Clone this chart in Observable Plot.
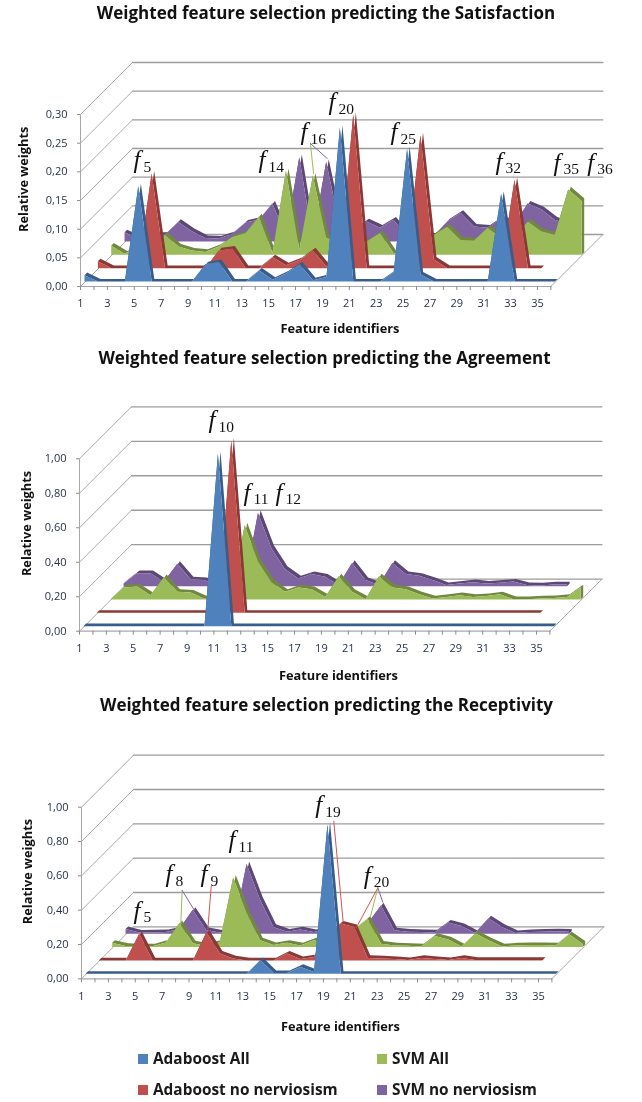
<!DOCTYPE html>
<html><head><meta charset="utf-8">
<script src="https://cdn.jsdelivr.net/npm/d3@7"></script>
<script src="https://cdn.jsdelivr.net/npm/@observablehq/plot@0.6"></script>
<style>
html,body{margin:0;padding:0;background:#fff;}
#page{position:relative;width:642px;height:1102px;overflow:hidden;font-family:"Open Sans",sans-serif;filter:blur(0.35px);}
.title{position:absolute;width:652px;text-align:center;font-weight:700;font-size:17px;color:#111;white-space:nowrap;}
.panel{position:absolute;left:0;}
.panel svg{display:block;overflow:visible;}
.leg{position:absolute;font-weight:700;font-size:15.4px;color:#1a1a1a;white-space:nowrap;line-height:18px;}
.sw{position:absolute;width:10px;height:10px;}
</style></head><body><div id="page"></div>
<script>
// values: one entry per feature identifier, starting at 1
const satisfactionBlue=[.011,0,0,0,.166,0,0,0,0,.03,.034,0,0,.019,.003,.014,.03,.002,.008,.268,0,0,0,.016,.231,.012,0,0,0,0,0,.153,0,0,0,0];
const satisfactionRed=[.012,0,0,0,.165,0,0,0,0,.031,.034,0,0,.019,.005,.014,.031,.003,.009,.268,0,0,0,.016,.232,.015,0,0,0,0,0,.154,0,0];
const satisfactionGreen=[.016,.002,.014,.01,.035,.0145,.0075,.005,.0145,.031,.038,.067,.003,.146,.009,.138,.03,.02,.02,.023,.038,.003,0,.01,.035,.049,.026,.025,.047,.03,.03,.058,.041,.035,.114,.094];
const satisfactionPurple=[.016,.005,.01,.012,.034,.018,.006,.005,.013,.033,.038,.066,.01,.147,.003,.139,.027,.02,.035,.024,.038,.01,.01,.01,.035,.05,.026,.024,.04,.03,.066,.056,.038,.03];
const agreementBlue=[0,0,0,0,0,0,0,0,0,0,1,0,0,0,0,0,0,0,0,0,0,0,0,0,0,0,0,0,0,0,0,0,0,0,0,0];
const agreementRed=[0,0,0,0,0,0,0,0,0,0,1,0,0,0,0,0,0,0,0,0,0,0,0,0,0,0,0,0,0,0,0,0,0,0];
const agreementGreen=[0,.07,.075,.025,.13,.045,.04,.005,.005,.005,.43,.22,.10,.045,.07,.06,.015,.135,.045,.002,.135,.07,.06,.03,.006,.015,.025,.015,.02,.03,.002,.002,.006,.008,.015,.07];
const agreementPurple=[.015,.075,.075,.025,.13,.04,.035,.005,.005,.005,.425,.22,.10,.045,.07,.055,.006,.135,.035,.006,.135,.07,.06,.035,.006,.015,.023,.015,.02,.027,.006,.004,.01,.01];
const receptivityBlue=[0,0,0,0,0,0,0,0,0,0,0,0,0,.08,.004,.004,.04,.01,.87,0,0,0,0,0,0,0,0,0,0,0,0,0,0,0,0,0];
const receptivityRed=[0,0,0,.155,0,0,0,0,.165,.04,.012,0,0,0,.04,.008,.02,.155,.215,.195,.015,.012,.008,.002,.015,.008,.002,.015,.003,.003,.003,.003,.003,.003];
const receptivityGreen=[.025,.007,.005,.005,.027,.14,.022,.007,.027,.405,.2,.04,.012,.025,.01,.04,.02,.06,.1,.165,.02,.01,.008,.004,.065,.045,.004,.08,.04,.004,.01,.012,.012,.01,.075,.02];
const receptivityPurple=[.027,.007,.008,.01,.027,.14,.022,.007,.012,.406,.2,.04,.012,.025,.01,.025,.012,.02,.06,.165,.02,.012,.01,.008,.065,.045,.004,.09,.04,.004,.01,.012,.014,.012];

const seriesNames=["Adaboost All","Adaboost no nerviosism","SVM All","SVM no nerviosism"];
const seriesFill=["#4F81BD","#C0504D","#9BBB59","#8064A2"];
const seriesSide=["#385D8A","#8C3836","#71893F","#5C4776"];
const featureTicks=d3.range(1,37);

const satisfactionTicks=[0,.05,.10,.15,.20,.25,.30];
const unitTicks=[0,.2,.4,.6,.8,1];

// annotation labels: [subscript, feature position, value position]
const satisfactionLabels=[["5",4.94,.206],["14",14.24,.206],["16",17.37,.255],["20",19.45,.307],["25",24.07,.255],["32",31.88,.204],["35",36.2,.202],["36",38.7,.202]];
const agreementLabels=[["10",10.6,1.176],["11",13.2,.758],["12",15.58,.758]];
const receptivityLabels=[["5",4.87,.351],["8",7.25,.563],["9",9.85,.563],["11",11.94,.76],["19",18.4,.964],["20",22,.555]];
// leader lines: [series index, from feature, from value, to feature, to value]
const satisfactionLeaders=[[2,18.11,.2494,18.34,.197],[3,18.11,.2494,19.36,.2233]];
const agreementLeaders=[];
const receptivityLeaders=[[2,8.49,.515,8.39,.32],[3,8.49,.515,9.41,.398],[1,10.65,.538,10.4,.291],[1,19.77,.918,20.47,.33],[1,23.05,.53,21.46,.30],[2,23.05,.53,22.5,.363],[3,23.05,.53,23.42,.446]];

const page=document.getElementById("page");
const tickInk="#26324a", numFont="'Open Sans',sans-serif";

function panel({top,height,originX,originY,pxPerValue,series,yTicks,labels,leaders,xTitleF,xTitleOffset,yTitleValue,yTitleOffset}){
  const pxPerFeature=13.44, depth=52, thick=2.6, first=4.5, step=13.35;
  const right=4, upper=6;
  const dF=d=>d/pxPerFeature, dV=d=>d/pxPerValue;
  const xMax=1+(642-right-originX)/pxPerFeature;
  const yMax=(originY-top-upper)/pxPerValue;
  const marks=[];
  const wallGray="#a8a8a8", backGray="#9c9c9c";
  // diagonal wall lines, then the back wall grid
  yTicks.forEach(v=>{
    marks.push(Plot.line([{x:1,y:v},{x:1+dF(depth),y:v+dV(depth)}],{x:"x",y:"y",stroke:wallGray,strokeWidth:1}));
    marks.push(Plot.line([{x:1+dF(depth),y:v+dV(depth)},{x:36+dF(depth),y:v+dV(depth)}],{x:"x",y:"y",stroke:backGray,strokeWidth:1.3}));
  });
  marks.push(Plot.line([{x:36,y:0},{x:36+dF(depth),y:dV(depth)}],{x:"x",y:"y",stroke:wallGray,strokeWidth:1}));
  marks.push(Plot.line([{x:1,y:0},{x:36,y:0}],{x:"x",y:"y",stroke:wallGray,strokeWidth:1.2}));
  marks.push(Plot.line([{x:1,y:0},{x:1,y:yTicks[yTicks.length-1]}],{x:"x",y:"y",stroke:wallGray,strokeWidth:1}));
  [3,2,1,0].forEach(i=>{
    const front=first+step*i, back=front+thick;
    const rows=series[i].map((v,k)=>({f:k+1,v}));
    const ribbon=[...rows,{f:rows.length,v:0}];
    marks.push(Plot.area(ribbon,{
      x1:d=>d.f+dF(front),y1:d=>d.v+dV(front),
      x2:d=>d.f+dF(back),y2:d=>d.v+dV(back),
      fill:seriesSide[i],curve:"linear"}));
    marks.push(Plot.area(rows,{
      x1:d=>d.f+dF(front),x2:d=>d.f+dF(front),
      y1:()=>dV(front),y2:d=>d.v+dV(front),
      fill:seriesFill[i],curve:"linear"}));
  });
  leaders.forEach(l=>marks.push(Plot.line([{x:l[1],y:l[2]},{x:l[3],y:l[4]}],{x:"x",y:"y",stroke:l[0]==1?"#D9534F":seriesFill[l[0]],strokeWidth:1})));
  marks.push(Plot.text(labels,{x:d=>d[1],y:d=>d[2],text:()=>"f",textAnchor:"start",lineAnchor:"bottom",dy:0,
    fontFamily:"'Liberation Serif',serif",fontStyle:"italic",fontSize:25,fill:"#111"}));
  marks.push(Plot.text(labels,{x:d=>d[1],y:d=>d[2],text:d=>d[0],textAnchor:"start",lineAnchor:"bottom",dx:10,dy:3.5,
    fontFamily:"'Liberation Serif',serif",fontSize:15.5,fill:"#111"}));
  marks.push(Plot.axisX(featureTicks,{anchor:"bottom",tickSize:4,tickFormat:()=>"",color:"#8c8c8c",label:null}));
  marks.push(Plot.axisX(featureTicks.filter(d=>d%2),{anchor:"bottom",tickSize:0,tickPadding:13,tickFormat:d=>String(d),color:tickInk,fontFamily:numFont,fontSize:11,label:null}));
  marks.push(Plot.axisY(yTicks,{anchor:"left",tickSize:3,tickFormat:()=>"",color:"#8c8c8c",label:null}));
  marks.push(Plot.axisY(yTicks,{anchor:"left",tickSize:0,tickPadding:13,tickFormat:d=>d3.format(".2f")(d).replace(".",","),color:tickInk,fontFamily:numFont,fontSize:11,label:null}));
  marks.push(Plot.text(["Feature identifiers"],{x:()=>xTitleF,frameAnchor:"bottom",lineAnchor:"middle",dy:xTitleOffset,fontFamily:numFont,fontWeight:700,fontSize:12.8,fill:"#111"}));
  marks.push(Plot.text(["Relative weights"],{y:()=>yTitleValue,frameAnchor:"left",textAnchor:"middle",dx:yTitleOffset,rotate:-90,fontFamily:numFont,fontWeight:700,fontSize:12.8,fill:"#111"}));
  const svg=Plot.plot({
    width:642,height,marginLeft:originX,marginRight:right,marginTop:upper,marginBottom:top+height-originY,
    x:{domain:[1,xMax],axis:null},y:{domain:[0,yMax],axis:null},
    style:{background:"transparent",overflow:"visible"},
    marks
  });
  const d=document.createElement("div");d.className="panel";d.style.top=top+"px";d.appendChild(svg);page.appendChild(d);
}

function title(text,top,left){const d=document.createElement("div");d.className="title";d.style.top=top+"px";d.style.left=left+"px";d.textContent=text;page.appendChild(d);}
title("Weighted feature selection predicting the Satisfaction",1,0);
title("Weighted feature selection predicting the Agreement",346,-1.5);
title("Weighted feature selection predicting the Receptivity",693,0.5);

panel({top:28,height:312,originX:80,originY:286,pxPerValue:573.3,
  series:[satisfactionBlue,satisfactionRed,satisfactionGreen,satisfactionPurple],
  yTicks:satisfactionTicks,labels:satisfactionLabels,leaders:satisfactionLeaders,xTitleF:20.3,xTitleOffset:42.7,yTitleValue:.187,yTitleOffset:-57});
panel({top:374,height:314,originX:79,originY:630.7,pxPerValue:172.4,
  series:[agreementBlue,agreementRed,agreementGreen,agreementPurple],
  yTicks:unitTicks,labels:agreementLabels,leaders:agreementLeaders,xTitleF:20.27,xTitleOffset:44.3,yTitleValue:.625,yTitleOffset:-53});
panel({top:722,height:316,originX:81,originY:978.3,pxPerValue:171.6,
  series:[receptivityBlue,receptivityRed,receptivityGreen,receptivityPurple],
  yTicks:unitTicks,labels:receptivityLabels,leaders:receptivityLeaders,xTitleF:20.27,xTitleOffset:48.4,yTitleValue:.625,yTitleOffset:-54});

[[138,153,1054],[138,153,1085],[377,392,1054],[377,392,1085]].forEach((p,i)=>{
  const s=document.createElement("div");s.className="sw";s.style.cssText=`left:${p[0]}px;top:${p[2]}px;background:${seriesFill[i]}`;page.appendChild(s);
  const t=document.createElement("div");t.className="leg";t.style.cssText=`left:${p[1]}px;top:${p[2]-4}px`;t.textContent=seriesNames[i];page.appendChild(t);
});
</script></body></html>
